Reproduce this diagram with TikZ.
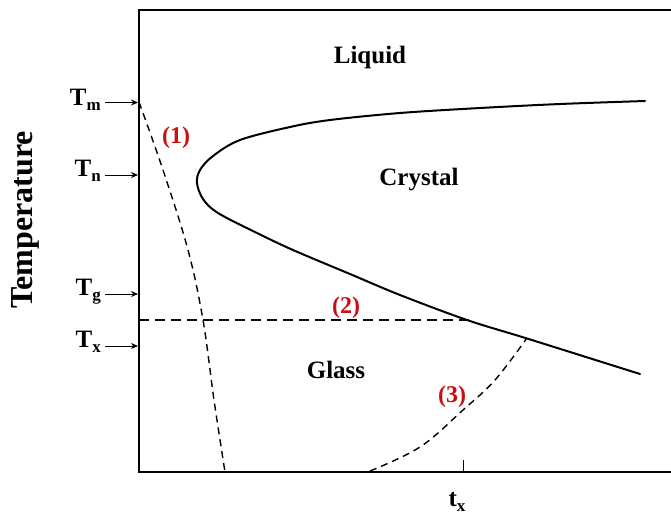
\documentclass[tikz,border=0pt]{standalone}
\usepackage{fontspec}
\setmainfont{Liberation Serif}
\usetikzlibrary{arrows.meta}
\definecolor{lblred}{RGB}{200,16,20}
\newcommand{\subT}[1]{T\raisebox{-5.5pt}{\fontsize{17}{17}\selectfont #1}}
\begin{document}
\begin{tikzpicture}[x=1pt,y=-1pt,
  lbl/.style={font=\fontsize{25}{30}\selectfont\bfseries, inner sep=0pt},
  tlbl/.style={font=\fontsize{25}{30}\selectfont\bfseries, inner sep=0pt, anchor=base east},
  rlbl/.style={font=\fontsize{24}{28}\selectfont\bfseries, text=lblred, inner sep=0pt},
  arr/.style={line width=1pt, -{Stealth[length=7pt,width=6pt]}},
  axis/.style={line width=2.4pt},
  curve/.style={line width=2pt, line cap=round},
  dsh/.style={line width=1.4pt, dash pattern=on 7pt off 5pt},
  dshb/.style={line width=2.6pt, dash pattern=on 10pt off 6pt}]
\path[use as bounding box] (0,0) rectangle (671,517);
% frame
\draw[axis] (671,10) -- (139,10) -- (139,472) -- (671,472);
% tick
\draw[line width=0.8pt] (463,472) -- (463,460);
% axis labels
\node[font=\fontsize{32}{36}\selectfont\bfseries, rotate=90, inner sep=0pt] (temp) at (25,220) {Temperature};
\node[tlbl] (Tm) at (101,105) {\subT{m}};
\node[tlbl] (Tn) at (101,176) {\subT{n}};
\node[tlbl] (Tg) at (101,295) {\subT{g}};
\node[tlbl] (Tx) at (101,347) {\subT{x}};
\coordinate (am0) at (105,102.5); \coordinate (am1) at (138,102.5);
\coordinate (an0) at (105,175); \coordinate (an1) at (138,175);
\coordinate (ag0) at (105,294); \coordinate (ag1) at (138,294);
\coordinate (ax0) at (105,346); \coordinate (ax1) at (138,346);
\draw[arr] (am0) -- (am1);
\draw[arr] (an0) -- (an1);
\draw[arr] (ag0) -- (ag1);
\draw[arr] (ax0) -- (ax1);
\node[font=\fontsize{25}{30}\selectfont\bfseries, inner sep=0pt, anchor=base] (tx) at (457,506) {t\raisebox{-5pt}{\fontsize{17}{17}\selectfont x}};
% region labels
\node[lbl] (liq) at (370,57) {Liquid};
\node[lbl] (cry) at (419,180) {Crystal};
\node[lbl] (gla) at (336,370) {Glass};
\node[rlbl] (l1) at (176,138) {(1)};
\node[rlbl] (l2) at (346,308) {(2)};
\node[rlbl] (l3) at (452,397) {(3)};
% nose curve
\draw[curve] plot[smooth, tension=0.55] coordinates {(645,101) (560,104) (480,108) (400,113) (330,120) (290,127) (240,140) (213,156) (200,170) (197,183) (203,199) (218,213) (257,233) (293,250) (350,274) (400,295) (467,320) (527,338.5) (640,374)};
% dashed (1)
\draw[dsh] plot[smooth, tension=0.6] coordinates {(139,102) (163,170) (188,250) (203,320) (214,400) (225,472)};
% dashed (2)
\draw[dshb] (139,320) -- (470,320);
% dashed (3)
\draw[dsh] plot[smooth, tension=0.6] coordinates {(370,471) (420,447) (463,410) (495,380) (527,338)};
\end{tikzpicture}
\end{document}
